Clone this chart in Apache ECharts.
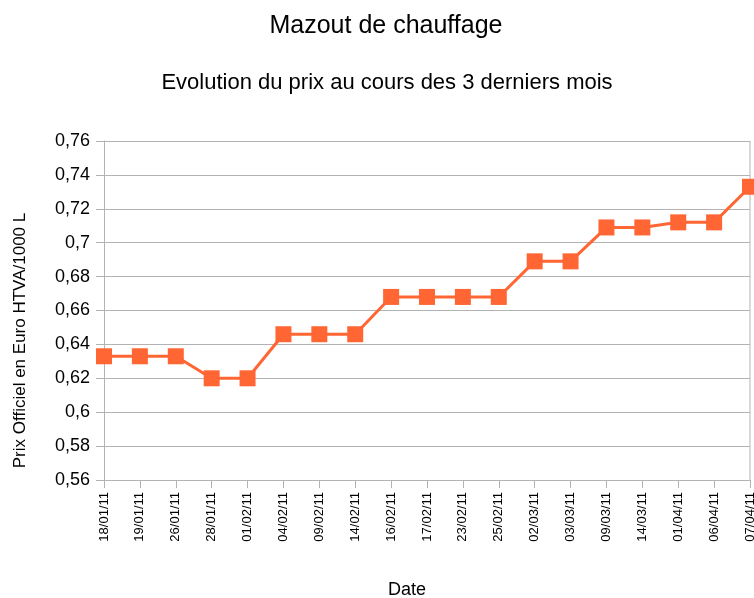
<!DOCTYPE html>
<html>
<head>
<meta charset="utf-8">
<script src="https://cdn.jsdelivr.net/npm/echarts@6/dist/echarts.min.js"></script>
<style>
html, body { margin: 0; padding: 0; background: #fff; }
#chart { width: 754px; height: 598px; }
</style>
</head>
<body>
<div id="chart"></div>
<script>
var dates = ['18/01/11', '19/01/11', '26/01/11', '28/01/11', '01/02/11', '04/02/11', '09/02/11',
    '14/02/11', '16/02/11', '17/02/11', '23/02/11', '25/02/11', '02/03/11', '03/03/11',
    '09/03/11', '14/03/11', '01/04/11', '06/04/11', '07/04/11'];
var prix = [0.633, 0.633, 0.633, 0.620, 0.620, 0.646, 0.646, 0.646, 0.668, 0.668,
    0.668, 0.668, 0.689, 0.689, 0.709, 0.709, 0.712, 0.712, 0.733];

var font = 'Liberation Sans';
var myChart = echarts.init(document.getElementById('chart'));

var option = {
    animation: false,
    textStyle: { fontFamily: font },
    title: [
        { text: 'Mazout de chauffage', left: 381, textAlign: 'center', top: 9,
          textStyle: { fontFamily: font, fontSize: 25, fontWeight: 'normal', color: '#000' } },
        { text: 'Evolution du prix au cours des 3 derniers mois', left: 382, textAlign: 'center', top: 67,
          textStyle: { fontFamily: font, fontSize: 22, fontWeight: 'normal', color: '#000' } }
    ],
    grid: { left: 104, right: 4, top: 141, bottom: 118, outerBoundsMode: 'none', containLabel: false },
    xAxis: {
        type: 'category',
        data: dates,
        boundaryGap: false,
        name: 'Date',
        nameLocation: 'middle',
        nameGap: 101,
        nameTextStyle: { fontFamily: font, fontSize: 18, color: '#000', padding: [0, 40, 0, 0] },
        axisLine: { lineStyle: { color: '#b3b3b3', width: 1 } },
        axisTick: { show: true, length: 8, lineStyle: { color: '#b3b3b3' } },
        axisLabel: { rotate: 90, fontSize: 13, color: '#000', margin: 12, interval: 0 },
        splitLine: { show: false }
    },
    yAxis: {
        type: 'value',
        min: 0.56,
        max: 0.76,
        interval: 0.02,
        name: 'Prix Officiel en Euro HTVA/1000 L',
        nameLocation: 'middle',
        nameGap: 75,
        nameTextStyle: { fontFamily: font, fontSize: 17, color: '#000', padding: [0, 60, 0, 0] },
        axisLine: { show: true, lineStyle: { color: '#b3b3b3', width: 1 } },
        axisTick: { show: true, length: 8, lineStyle: { color: '#b3b3b3' } },
        axisLabel: {
            fontSize: 18, color: '#000', margin: 14,
            formatter: function (v) { return String(+v.toFixed(2)).replace('.', ','); }
        },
        splitLine: { show: true, lineStyle: { color: '#b3b3b3', width: 1 } }
    },
    graphic: [{
        type: 'line',
        shape: { x1: 750, y1: 141, x2: 750, y2: 480 },
        style: { stroke: '#b3b3b3', lineWidth: 1 },
        z: 0
    }],
    series: [{
        type: 'line',
        data: prix,
        symbol: 'rect',
        symbolSize: 16,
        clip: false,
        lineStyle: { color: '#ff6633', width: 3 },
        itemStyle: { color: '#ff6633' }
    }]
};
myChart.setOption(option);
</script>
</body>
</html>
